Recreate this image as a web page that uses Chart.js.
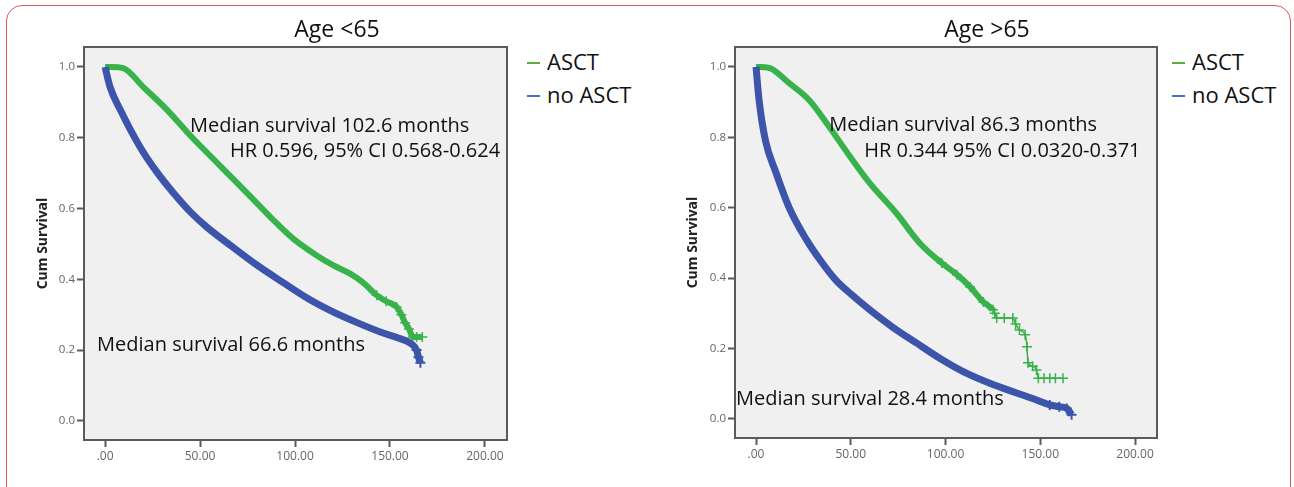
<!DOCTYPE html>
<html>
<head>
<meta charset="utf-8">
<script src="https://cdn.jsdelivr.net/npm/chart.js@4.4.1/dist/chart.umd.min.js"></script>
<style>
  body { margin: 0; background: #fff; width: 1294px; height: 487px; overflow: hidden; position: relative; font-family: "Open Sans", sans-serif; }
  .frame { position: absolute; left: 6px; top: 5px; width: 1285px; height: 500px; border: 1.5px solid #d9595a; border-radius: 16px; box-sizing: border-box; }
  .panel { position: absolute; top: 0; width: 520px; height: 487px; }
  .panel canvas { position: absolute; left: 0; top: 0; }
  .title { position: absolute; top: 12px; font-size: 23px; color: #111; transform: translateX(-50%); white-space: nowrap; }
  .legend { position: absolute; font-size: 22px; color: #111; line-height: 33px; }
  .legend div { white-space: nowrap; }
  .legend span { display: inline-block; width: 13px; height: 2px; vertical-align: middle; margin-right: 7px; position: relative; top: -1px; }
</style>
</head>
<body>
<div class="frame"></div>

<div class="panel" style="left:0">
  <canvas id="chartYoung" width="520" height="487"></canvas>
</div>
<div class="title" style="left:337px">Age &lt;65</div>
<div class="legend" style="left:527px;top:45px">
  <div><span style="background:#5aab46"></span>ASCT</div>
  <div><span style="background:#4a6fc0"></span>no ASCT</div>
</div>

<div class="panel" style="left:650px">
  <canvas id="chartOld" width="520" height="487"></canvas>
</div>
<div class="title" style="left:987px">Age &gt;65</div>
<div class="legend" style="left:1172px;top:45px">
  <div><span style="background:#5aab46"></span>ASCT</div>
  <div><span style="background:#4a6fc0"></span>no ASCT</div>
</div>

<script>
// x ticks and y ticks
const monthTicks = [0, 50, 100, 150, 200];
const survTicks = [0, 0.2, 0.4, 0.6, 0.8, 1.0];

// Age <65, ASCT
const youngAsctMonths = [0, 3, 9.5, 20, 32.6, 46, 57, 67, 78, 88.5, 99, 111, 120, 129, 136, 143, 148, 153.5, 156, 158, 160, 162, 164, 167];
const youngAsctSurv   = [1.0, 1.0, 0.997, 0.944, 0.879, 0.80, 0.74, 0.686, 0.626, 0.568, 0.515, 0.469, 0.44, 0.416, 0.39, 0.355, 0.338, 0.322, 0.30, 0.277, 0.26, 0.237, 0.237, 0.237];
// Age <65, no ASCT
const youngNoMonths = [0, 2.6, 8, 18.4, 27, 36, 45, 53.5, 67, 80, 94, 107, 120, 133, 146, 154, 160.5, 164, 165, 166];
const youngNoSurv   = [1.0, 0.944, 0.879, 0.774, 0.705, 0.644, 0.59, 0.548, 0.492, 0.44, 0.39, 0.345, 0.308, 0.277, 0.249, 0.235, 0.22, 0.2, 0.18, 0.164];

// Age >65, ASCT
const oldAsctMonths = [0, 2, 7, 17.5, 28, 38.6, 49, 60, 74, 86.3, 98, 106, 113, 120, 125, 126, 127, 131, 135.5, 137, 139, 142, 143, 143.5, 146, 148, 149, 152, 155, 158, 162];
const oldAsctSurv   = [1.0, 1.0, 0.997, 0.954, 0.906, 0.83, 0.75, 0.67, 0.585, 0.5, 0.443, 0.41, 0.375, 0.332, 0.31, 0.30, 0.287, 0.287, 0.287, 0.27, 0.253, 0.239, 0.205, 0.16, 0.15, 0.139, 0.116, 0.116, 0.116, 0.116, 0.116];
// Age >65, no ASCT
const oldNoMonths = [0, 1.6, 5, 10.5, 17.5, 26.5, 34, 42, 50, 60, 72, 84.6, 98, 111, 124, 137.5, 146, 155, 160, 164, 166.5];
const oldNoSurv   = [1.0, 0.906, 0.79, 0.70, 0.60, 0.51, 0.45, 0.395, 0.355, 0.31, 0.261, 0.216, 0.169, 0.13, 0.10, 0.074, 0.058, 0.04, 0.035, 0.03, 0.012];

// notes: [text, x (months), y (survival)]
const youngNotes = [
  ["Median survival 102.6 months", 44.7, 0.833],
  ["HR 0.596, 95% CI 0.568-0.624", 65.8, 0.763],
  ["Median survival 66.6 months", -4.2, 0.215],
];
const oldNotes = [
  ["Median survival 86.3 months", 38.6, 0.833],
  ["HR 0.344 95% CI 0.0320-0.371", 57.1, 0.761],
  ["Median survival 28.4 months", -10.6, 0.055],
];

const GREEN = "#38b24a";
const BLUE = "#3c55aa";

function pts(xs, ys) {
  return xs.map((x, i) => ({ x: x, y: ys[i] }));
}

const plotBox = {
  id: "plotBox",
  beforeDraw(chart) {
    const a = chart.chartArea, ctx = chart.ctx;
    ctx.save();
    ctx.fillStyle = "#f0f0f0";
    ctx.fillRect(a.left, a.top, a.width, a.height);
    ctx.restore();
  },
  afterDraw(chart) {
    const a = chart.chartArea, ctx = chart.ctx;
    ctx.save();
    ctx.strokeStyle = "#5a5a5a";
    ctx.lineWidth = 2;
    ctx.strokeRect(a.left, a.top, a.width, a.height);
    const notes = chart.options.plugins.plotBox.notes;
    ctx.fillStyle = "#111";
    ctx.font = "20px 'Open Sans'";
    ctx.textBaseline = "middle";
    notes.forEach((n) => {
      ctx.fillText(n[0], chart.scales.x.getPixelForValue(n[1]), chart.scales.y.getPixelForValue(n[2]));
    });
    ctx.restore();
  },
};

function makeChart(id, asct, noAsct, notes, opts) {
  return new Chart(document.getElementById(id), {
    type: "line",
    data: {
      datasets: [
        {
          label: "no ASCT",
          data: noAsct,
          borderColor: BLUE,
          backgroundColor: BLUE,
          borderWidth: 7,
          pointStyle: "cross",
          pointBorderWidth: 2,
          pointRadius: (c) => (c.raw && c.raw.x >= opts.blueMark ? 5 : 0),
          cubicInterpolationMode: "monotone",
        },
        {
          label: "ASCT",
          data: asct,
          borderColor: GREEN,
          backgroundColor: GREEN,
          borderWidth: 6,
          segment: {
            borderWidth: (c) => (c.p0.parsed.x >= opts.thinFrom ? 1.5 : 6),
          },
          pointStyle: "cross",
          pointBorderWidth: 1.5,
          pointRadius: (c) => (c.raw && c.raw.x >= opts.greenMark ? 5 : 0),
          cubicInterpolationMode: "monotone",
        },
      ],
    },
    options: {
      responsive: false,
      animation: false,
      layout: { padding: { top: 47, right: 13, left: 31, bottom: 0 } },
      plugins: {
        legend: { display: false },
        tooltip: { enabled: false },
        plotBox: { notes: notes },
      },
      scales: {
        x: {
          type: "linear",
          min: -11.1,
          max: 211.6,
          afterBuildTicks: (s) => { s.ticks = monthTicks.map((v) => ({ value: v })); },
          afterFit: (s) => { s.height = opts.xHeight; },
          grid: { drawOnChartArea: false, tickLength: 7, color: "#5a5a5a", tickWidth: 2 },
          border: { display: false },
          ticks: {
            padding: 2,
            color: "#666",
            font: { size: 12, family: "'Open Sans'" },
            callback: (v) => (v === 0 ? ".00" : v.toFixed(2)),
          },
        },
        y: {
          min: -0.054,
          max: 1.0565,
          afterBuildTicks: (s) => { s.ticks = survTicks.map((v) => ({ value: v })); },
          afterFit: (s) => { s.width = opts.yWidth; },
          grid: { drawOnChartArea: false, tickLength: 7, color: "#5a5a5a", tickWidth: 2 },
          border: { display: false },
          title: {
            display: true,
            text: "Cum Survival",
            color: "#222",
            font: { size: 14, weight: "bold", family: "'Open Sans'" },
            padding: { top: 4, bottom: 0 },
          },
          ticks: {
            padding: 2,
            color: "#666",
            font: { size: 11.5, family: "'Open Sans'" },
            callback: (v) => v.toFixed(1),
          },
        },
      },
    },
    plugins: [plotBox],
  });
}

makeChart("chartYoung", pts(youngAsctMonths, youngAsctSurv), pts(youngNoMonths, youngNoSurv), youngNotes,
  { xHeight: 47, yWidth: 53, blueMark: 163, greenMark: 140, thinFrom: 999 });
makeChart("chartOld", pts(oldAsctMonths, oldAsctSurv), pts(oldNoMonths, oldNoSurv), oldNotes,
  { xHeight: 49, yWidth: 54, blueMark: 150, greenMark: 98, thinFrom: 122 });
</script>
</body>
</html>
